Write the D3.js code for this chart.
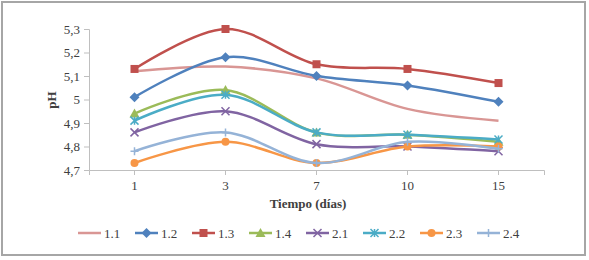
<!DOCTYPE html>
<html>
<head>
<meta charset="utf-8">
<script src="https://cdn.jsdelivr.net/npm/d3@7"></script>
<style>
  body { margin: 0; background: #fff; }
  text { font-family: "Liberation Serif", serif; fill: #404040; }
</style>
</head>
<body>
<div id="chart"></div>
<script>
const dias = ["1", "3", "7", "10", "15"];
const yTicks = [4.7, 4.8, 4.9, 5.0, 5.1, 5.2, 5.3];
const nombres = ["1.1", "1.2", "1.3", "1.4", "2.1", "2.2", "2.3", "2.4"];
const s11 = [5.12, 5.14, 5.09, 4.96, 4.91];
const s12 = [5.01, 5.18, 5.10, 5.06, 4.99];
const s13 = [5.13, 5.30, 5.15, 5.13, 5.07];
const s14 = [4.94, 5.04, 4.86, 4.85, 4.82];
const s21 = [4.86, 4.95, 4.81, 4.80, 4.78];
const s22 = [4.91, 5.02, 4.86, 4.85, 4.83];
const s23 = [4.73, 4.82, 4.73, 4.80, 4.80];
const s24 = [4.78, 4.86, 4.73, 4.82, 4.79];
const valores = [s11, s12, s13, s14, s21, s22, s23, s24];
const colores = ["#d99694", "#4f81bd", "#c0504d", "#9bbb59", "#8064a2", "#4bacc6", "#f79646", "#95b3d7"];
const marcas = ["none", "diamond", "square", "triangle", "x", "star", "circle", "plus"];

const width = 589, height = 260;
const svg = d3.select("#chart").append("svg").attr("width", width).attr("height", height);

svg.append("rect").attr("x", 2).attr("y", 2).attr("width", 583).attr("height", 253)
  .attr("fill", "#fff").attr("stroke", "#a6a6a6").attr("stroke-width", 2);

const x = d3.scaleBand().domain(dias).range([89, 544]);
const y = d3.scaleLinear().domain([4.7, 5.3]).range([170, 29]);
const cx = (d) => x(d) + x.bandwidth() / 2;

// eje y
const ejeY = svg.append("g").attr("transform", "translate(89,0)")
  .call(d3.axisLeft(y).tickValues(yTicks).tickSize(5).tickPadding(4)
    .tickFormat((d) => d3.format(".1f")(d).replace(".", ",").replace(",0", "")));
ejeY.select(".domain").attr("stroke", "#bfbfbf");
ejeY.selectAll("line").attr("stroke", "#bfbfbf");
ejeY.selectAll("text").style("font-size", "13px").attr("fill", "#404040");

// eje x
const ejeX = svg.append("g").attr("transform", "translate(0,170)")
  .call(d3.axisBottom(x).tickSize(5).tickPadding(6));
ejeX.select(".domain").attr("stroke", "#bfbfbf");
ejeX.selectAll("line").attr("stroke", "#bfbfbf");
ejeX.selectAll("text").style("font-size", "13px").attr("fill", "#404040");

svg.append("text").attr("x", 308).attr("y", 208).attr("text-anchor", "middle")
  .style("font-size", "13px").style("font-weight", "bold").text("Tiempo (días)");
svg.append("text").attr("transform", "translate(56,100) rotate(-90)").attr("text-anchor", "middle")
  .style("font-size", "13px").style("font-weight", "bold").text("pH");

const linea = d3.line().x((d, i) => cx(dias[i])).y((d) => y(d)).curve(d3.curveCatmullRom.alpha(0));

function marca(g, tipo, color) {
  const s = 4;
  if (tipo === "none") return;
  if (tipo === "diamond") g.append("path").attr("d", `M0,${-s - 1}L${s + 1},0L0,${s + 1}L${-s - 1},0Z`).attr("fill", color);
  if (tipo === "square") g.append("rect").attr("x", -s).attr("y", -s).attr("width", 2 * s).attr("height", 2 * s).attr("fill", color);
  if (tipo === "triangle") g.append("path").attr("d", `M0,${-s - 1}L${s + 1},${s}L${-s - 1},${s}Z`).attr("fill", color);
  if (tipo === "circle") g.append("circle").attr("r", s).attr("fill", color);
  if (tipo === "x") g.append("path").attr("d", `M${-s},${-s}L${s},${s}M${-s},${s}L${s},${-s}`).attr("stroke", color).attr("stroke-width", 1.5);
  if (tipo === "plus") g.append("path").attr("d", `M${-s},0L${s},0M0,${-s}L0,${s}`).attr("stroke", color).attr("stroke-width", 1.5);
  if (tipo === "star") g.append("path").attr("d", `M${-s},${-s}L${s},${s}M${-s},${s}L${s},${-s}M0,${-s}L0,${s}`).attr("stroke", color).attr("stroke-width", 1.5);
}

valores.forEach((serie, k) => {
  const c = colores[k];
  svg.append("path").attr("d", linea(serie)).attr("fill", "none").attr("stroke", c).attr("stroke-width", 2.5);
  serie.forEach((v, i) => {
    const g = svg.append("g").attr("transform", `translate(${cx(dias[i])},${y(v)})`);
    marca(g, marcas[k], c);
  });
});

// leyenda
nombres.forEach((n, k) => {
  const lx = 78 + k * 57, ly = 233;
  svg.append("line").attr("x1", lx).attr("x2", lx + 23).attr("y1", ly).attr("y2", ly)
    .attr("stroke", colores[k]).attr("stroke-width", 2.5);
  const g = svg.append("g").attr("transform", `translate(${lx + 11.5},${ly})`);
  marca(g, marcas[k], colores[k]);
  svg.append("text").attr("x", lx + 26).attr("y", ly + 4.5).style("font-size", "13px").text(n);
});
</script>
</body>
</html>
